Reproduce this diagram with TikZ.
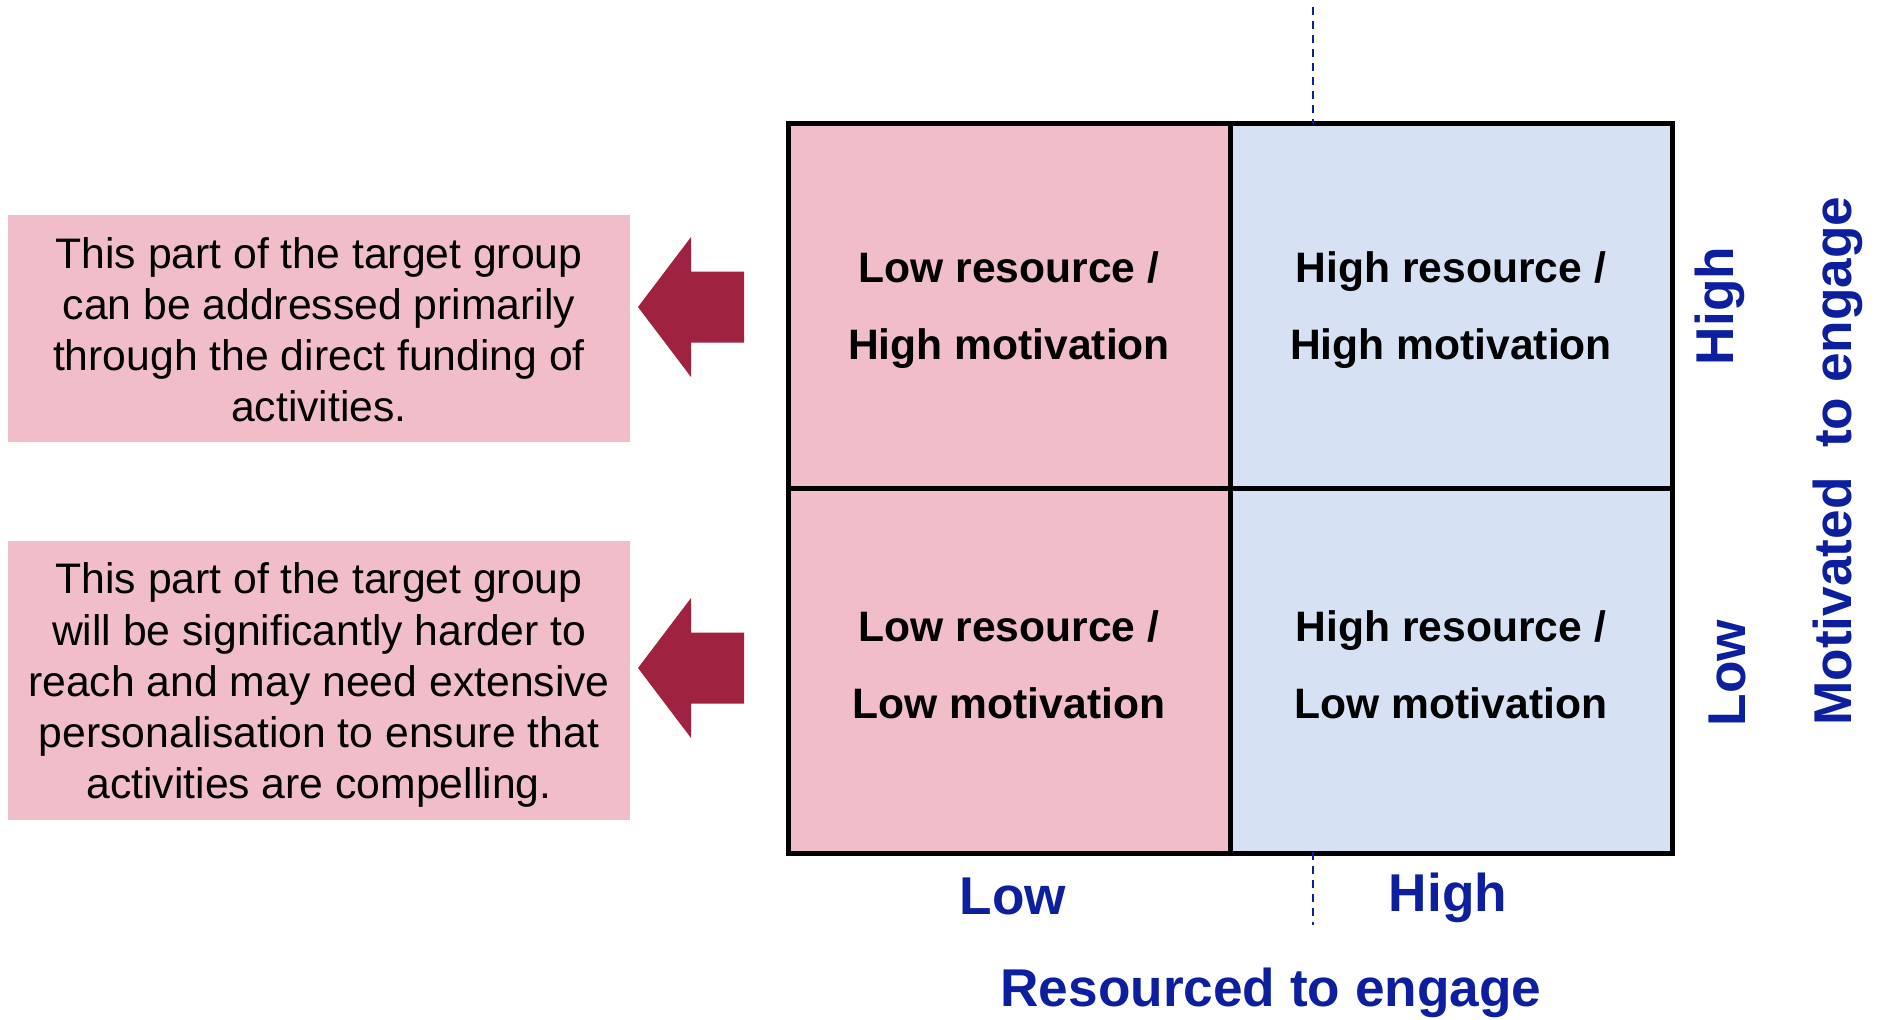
\documentclass[tikz,border=0pt]{standalone}
\usepackage{fontspec}
\setmainfont{Liberation Sans}
\usepackage{tikz}
\usetikzlibrary{positioning}
\usepackage{xcolor}
\definecolor{cellpink}{HTML}{F0BDC9}
\definecolor{cellblue}{HTML}{D6E1F3}
\definecolor{arrowred}{HTML}{9F2241}
\definecolor{axisblue}{HTML}{0C1F9E}
\tikzset{>=latex}

\begin{document}
\begin{tikzpicture}[x=0.5pt, y=-0.5pt]

        % picture units are pixels of the original slide (y runs down)
        \tikzstyle{cell}=[draw=black, line width=2.5pt, outer sep=0pt, inner sep=0pt,
                minimum width=221pt, minimum height=182.5pt]
        \tikzstyle{celltext}=[inner sep=0pt, align=center, font=\fontsize{21.3}{38.5}\selectfont\bfseries]
        \tikzstyle{sidebox}=[fill=cellpink, inner sep=0pt, minimum width=311pt]
        \tikzstyle{notetext}=[inner sep=0pt, align=center, font=\fontsize{21.35}{25.6}\selectfont]
        \tikzstyle{axislabel}=[text=axisblue, inner sep=0pt, font=\fontsize{26.6}{30}\selectfont\bfseries]
        \tikzstyle{guide}=[axisblue, line width=0.9pt, dash pattern=on 3.75pt off 3.25pt]

        \useasboundingbox (0,0) rectangle (1877,1019);

        % the four quadrants
        \node[cell, fill=cellpink] (LH) at (1009,305.5) {};
        \node[cell, fill=cellblue, right=0pt of LH] (HH) {};
        \node[cell, fill=cellpink, below=0pt of LH] (LL) {};
        \node[cell, fill=cellblue, below=0pt of HH] (HL) {};
        \node[celltext] (LHtext) at ([yshift=-2.1pt]LH.center) {Low resource /\\High motivation};
        \node[celltext] (HHtext) at ([yshift=-2.1pt]HH.center) {High resource /\\High motivation};
        \node[celltext] (LLtext) at ([yshift=2.7pt]LL.center) {Low resource /\\Low motivation};
        \node[celltext] (HLtext) at ([yshift=2.7pt]HL.center) {High resource /\\Low motivation};

        % notes on the left
        \node[sidebox, minimum height=113.5pt] (noteA) at (319,328.5) {};
        \node[sidebox, minimum height=139.5pt] (noteB) at (319,680.5) {};
        \node[notetext] (noteAtext) at ([yshift=-0.6pt]noteA.center)
                {This part of the target group\\can be addressed primarily\\through the direct funding of\\activities.};
        \node[notetext] (noteBtext) at ([yshift=-2.4pt]noteB.center)
                {This part of the target group\\will be significantly harder to\\reach and may need extensive\\personalisation to ensure that\\activities are compelling.};

        % block arrows
        \foreach \ya in {307,668} {
                \fill[arrowred] (638,\ya) -- (691,\ya-70) -- (691,\ya-35.5) -- (744,\ya-35.5)
                        -- (744,\ya+35.5) -- (691,\ya+35.5) -- (691,\ya+70) -- cycle;
        }

        % dashed guides
        \coordinate (gtopA) at (1313,7);
        \coordinate (gtopB) at (1313,123);
        \coordinate (gbotA) at (1313,852);
        \coordinate (gbotB) at (1313,925);
        \draw[guide] (gtopA) -- (gtopB);
        \draw[guide] (gbotA) -- (gbotB);

        % axis labels
        \node[axislabel] (xlow) at (1013,896) {Low};
        \node[axislabel] (xhigh) at (1448,898) {High};
        \node[axislabel] (xtitle) at (1271,993) {Resourced to engage};
        \node[axislabel, rotate=90] (yhigh) at (1720,306) {High};
        \node[axislabel, rotate=90] (ylow) at (1727,673) {Low};
        \node[axislabel, rotate=90] (ytitle) at (1838,461) {Motivated\ \ to engage};

\end{tikzpicture}
\end{document}
